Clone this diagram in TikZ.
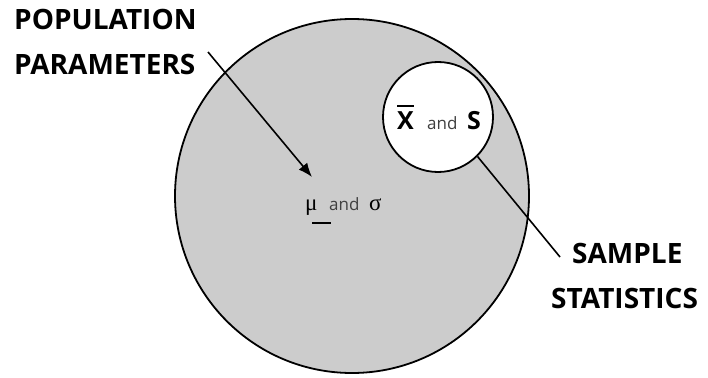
\documentclass[tikz,border=0pt]{standalone}
\usepackage{fontspec}
\setmainfont{Open Sans}
\newfontfamily\greekfont{Liberation Serif}
\usetikzlibrary{arrows.meta}
\definecolor{popgray}{RGB}{204,204,204}
\begin{document}
\begin{tikzpicture}[x=1pt,y=-1pt,
  outline/.style={draw=black,line width=1.8pt},
  biglabel/.style={font=\fontsize{28}{30}\selectfont\bfseries,anchor=base west,inner sep=0pt},
  smalltext/.style={font=\fontsize{17}{19}\selectfont,text=black!75,anchor=base west,inner sep=0pt},
  symtext/.style={font=\fontsize{25}{27}\selectfont\bfseries,anchor=base west,inner sep=0pt},
  greektext/.style={font=\fontsize{23}{25}\selectfont\greekfont,anchor=base west,inner sep=0pt},
  connector/.style={draw=black,line width=1.6pt}]
\useasboundingbox (0,0) rectangle (708,377);
\node[circle,outline,fill=popgray,minimum size=354pt,inner sep=0pt] (pop) at (352,196) {};
\node[circle,outline,fill=white,minimum size=110pt,inner sep=0pt] (samp) at (438,117) {};
\node[biglabel] (popA) at (14,30) {POPULATION};
\node[biglabel] (popB) at (14,75) {PARAMETERS};
\node[biglabel] (sampA) at (572,263) {SAMPLE};
\node[biglabel] (sampB) at (551,308) {STATISTICS};
% population parameters
\node[greektext] (mu) at (305,210) {μ};
\node[smalltext] (muand) at (329,210) {and};
\node[greektext] (sigma) at (369,210) {σ};
\coordinate (muBarL) at (312,223);
\coordinate (muBarR) at (331,223);
\draw[line width=1.8pt] (muBarL) -- (muBarR);
\coordinate (arrStart) at (208,52);
\draw[connector,-{Latex[length=14pt,width=11pt]}] (arrStart) -- (312,177);
% sample statistics
\node[symtext] (xbar) at (397,129) {X};
\node[smalltext] (xsand) at (427,129) {and};
\node[symtext] (ess) at (467,129) {S};
\draw[line width=1.8pt] ([yshift=5pt]xbar.north west) -- ([yshift=5pt]xbar.north east);
\coordinate (sampEnd) at (560,257);
\draw[connector] (samp.-45) -- (sampEnd);
\end{tikzpicture}
\end{document}
